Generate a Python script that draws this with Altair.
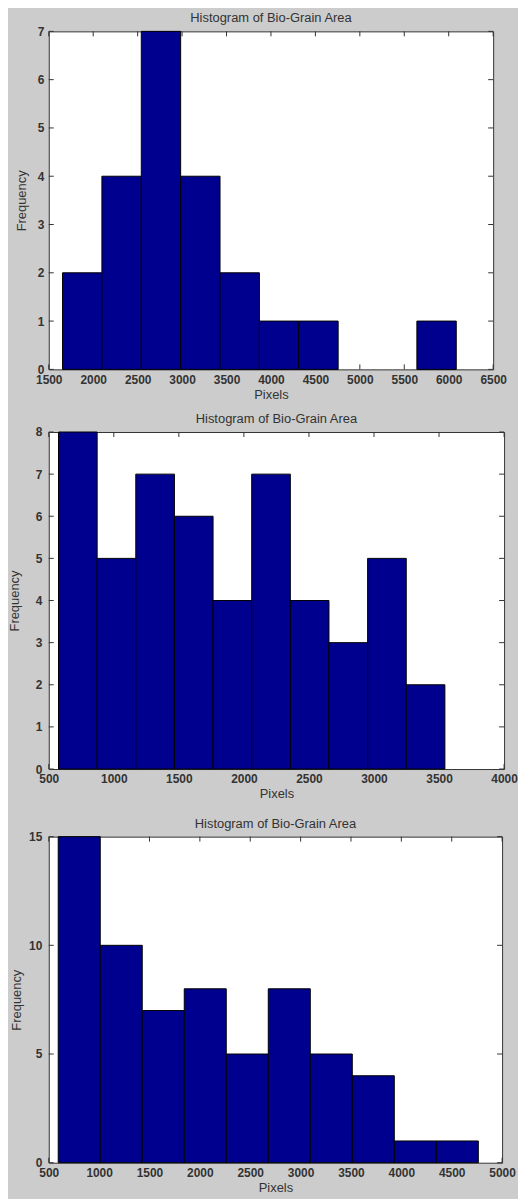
import altair as alt
import pandas as pd

TITLE = "Histogram of Bio-Grain Area"
X_TITLE = "Pixels"
Y_TITLE = "Frequency"

# Panel 1
p1_edges = [1655, 2098, 2541, 2984, 3427, 3870, 4313, 4756, 5199, 5642, 6085]
p1_counts = [2, 4, 7, 4, 2, 1, 1, 0, 0, 1]
p1_xticks = [1500, 2000, 2500, 3000, 3500, 4000, 4500, 5000, 5500, 6000, 6500]
p1_yticks = [0, 1, 2, 3, 4, 5, 6, 7]

# Panel 2
p2_edges = [575, 872, 1169, 1466, 1763, 2060, 2357, 2654, 2951, 3248, 3545]
p2_counts = [8, 5, 7, 6, 4, 7, 4, 3, 5, 2]
p2_xticks = [500, 1000, 1500, 2000, 2500, 3000, 3500, 4000]
p2_yticks = [0, 1, 2, 3, 4, 5, 6, 7, 8]

# Panel 3
p3_edges = [594, 1011, 1428, 1845, 2262, 2679, 3096, 3513, 3930, 4347, 4764]
p3_counts = [15, 10, 7, 8, 5, 8, 5, 4, 1, 1]
p3_xticks = [500, 1000, 1500, 2000, 2500, 3000, 3500, 4000, 4500, 5000]
p3_yticks = [0, 5, 10, 15]

FONT = "Liberation Sans"
TXT = "#333333"
BAR = "#00008f"
TICK = "#333333"


def panel(edges, counts, xticks, yticks, width, height, label_pad, extent, title_pad):
    bars = pd.DataFrame({"lo": edges[:-1], "hi": edges[1:], "count": counts})
    xt = pd.DataFrame({"v": xticks})
    yt = pd.DataFrame({"v": yticks})
    xs = alt.Scale(domain=[xticks[0], xticks[-1]], nice=False, zero=False)
    ys = alt.Scale(domain=[yticks[0], yticks[-1]], nice=False, zero=True)

    xaxis = alt.Axis(
        values=xticks, format="d", title=X_TITLE, grid=False, domain=False,
        ticks=False, labelPadding=5, labelFlush=False, labelOverlap=False,
        labelFont=FONT, labelFontSize=12, labelFontWeight="bold", labelColor=TXT,
        titleFont=FONT, titleFontSize=13, titleFontWeight="normal", titleColor=TXT,
        titlePadding=3,
    )
    yaxis = alt.Axis(
        values=yticks, format="d", title=Y_TITLE, grid=False, domain=False,
        ticks=False, labelPadding=label_pad, labelFlush=False, labelOverlap=False,
        minExtent=extent, maxExtent=extent,
        labelFont=FONT, labelFontSize=12, labelFontWeight="bold", labelColor=TXT,
        titleFont=FONT, titleFontSize=13, titleFontWeight="normal", titleColor=TXT,
        titlePadding=title_pad,
    )

    bar_layer = alt.Chart(bars).transform_filter("datum.count > 0").mark_rect(
        fill=BAR, stroke="#000000", strokeWidth=1
    ).encode(
        x=alt.X("lo:Q", scale=xs, axis=xaxis),
        x2="hi:Q",
        y=alt.Y("count:Q", scale=ys, axis=yaxis),
        y2=alt.datum(0),
    )

    top = alt.Chart(xt).mark_rule(color=TICK, strokeWidth=1).encode(
        x=alt.X("v:Q", scale=xs, axis=xaxis), y=alt.value(0), y2=alt.value(5)
    )
    bottom = alt.Chart(xt).mark_rule(color=TICK, strokeWidth=1).encode(
        x=alt.X("v:Q", scale=xs, axis=xaxis), y=alt.value(height), y2=alt.value(height - 5)
    )
    left = alt.Chart(yt).mark_rule(color=TICK, strokeWidth=1).encode(
        y=alt.Y("v:Q", scale=ys, axis=yaxis), x=alt.value(0), x2=alt.value(5)
    )
    right = alt.Chart(yt).mark_rule(color=TICK, strokeWidth=1).encode(
        y=alt.Y("v:Q", scale=ys, axis=yaxis), x=alt.value(width), x2=alt.value(width - 5)
    )

    return alt.layer(top, bottom, left, right, bar_layer).properties(
        width=width,
        height=height,
        title=alt.TitleParams(
            TITLE, font=FONT, fontSize=13, fontWeight="normal", color=TXT,
            offset=0, anchor="middle",
        ),
    )


p1 = panel(p1_edges, p1_counts, p1_xticks, p1_yticks, 447, 340, 5, 12, 8)
p2 = panel(p2_edges, p2_counts, p2_xticks, p2_yticks, 458, 339, 7, 14, 13)
p3 = panel(p3_edges, p3_counts, p3_xticks, p3_yticks, 456, 328, 7, 21, 4)

inner = alt.vconcat(p1, p2, spacing=10)
chart = alt.vconcat(inner, p3, spacing=15).properties(
    background="#cccccc",
    padding={"left": 0, "top": 0, "right": 0, "bottom": 0},
).configure_view(
    fill="white", stroke="#333333", strokeWidth=1
)

chart.save("out.html", embed_options={"renderer": "svg", "actions": False})
